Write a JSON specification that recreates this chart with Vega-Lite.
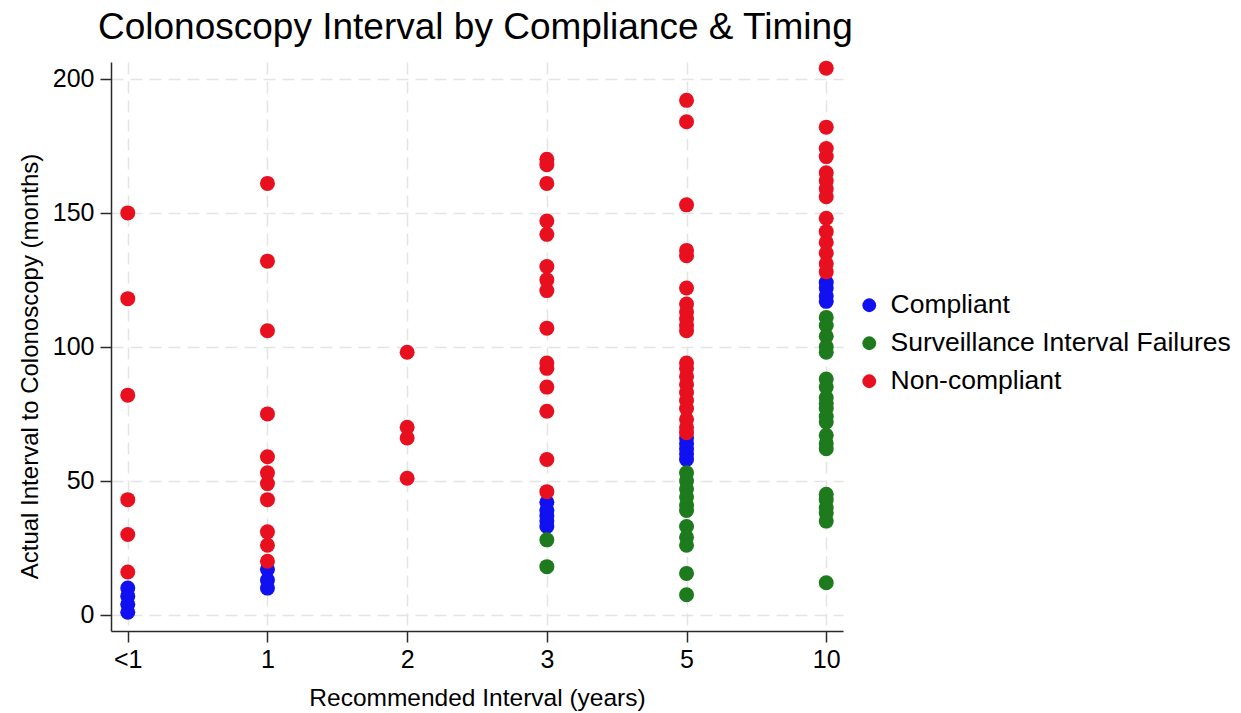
{
  "$schema": "https://vega.github.io/schema/vega-lite/v6.json",
  "autosize": {"type": "none"},
  "padding": {"left": 111, "top": 62, "right": 398, "bottom": 82},
  "width": 732,
  "height": 569,
  "background": "white",
  "title": {
    "text": "Colonoscopy Interval by Compliance & Timing",
    "anchor": "start",
    "frame": "group",
    "font": "Liberation Sans",
    "fontSize": 37,
    "fontWeight": "normal",
    "color": "black",
    "dx": -13,
    "offset": 14
  },
  "config": {
    "view": {"stroke": null},
    "font": "Liberation Sans"
  },
  "data": {
    "values": [
      {"x": "<1", "y": 10, "group": "Compliant"},
      {"x": "<1", "y": 7, "group": "Compliant"},
      {"x": "<1", "y": 4, "group": "Compliant"},
      {"x": "<1", "y": 1, "group": "Compliant"},
      {"x": "1", "y": 17, "group": "Compliant"},
      {"x": "1", "y": 13, "group": "Compliant"},
      {"x": "1", "y": 10, "group": "Compliant"},
      {"x": "3", "y": 42, "group": "Compliant"},
      {"x": "3", "y": 39, "group": "Compliant"},
      {"x": "3", "y": 37, "group": "Compliant"},
      {"x": "3", "y": 35, "group": "Compliant"},
      {"x": "3", "y": 33, "group": "Compliant"},
      {"x": "5", "y": 66, "group": "Compliant"},
      {"x": "5", "y": 64, "group": "Compliant"},
      {"x": "5", "y": 62, "group": "Compliant"},
      {"x": "5", "y": 60, "group": "Compliant"},
      {"x": "5", "y": 58, "group": "Compliant"},
      {"x": "10", "y": 124, "group": "Compliant"},
      {"x": "10", "y": 122, "group": "Compliant"},
      {"x": "10", "y": 119, "group": "Compliant"},
      {"x": "10", "y": 117, "group": "Compliant"},
      {"x": "3", "y": 28, "group": "Surveillance Interval Failures"},
      {"x": "3", "y": 18, "group": "Surveillance Interval Failures"},
      {"x": "5", "y": 53, "group": "Surveillance Interval Failures"},
      {"x": "5", "y": 50, "group": "Surveillance Interval Failures"},
      {"x": "5", "y": 47, "group": "Surveillance Interval Failures"},
      {"x": "5", "y": 44, "group": "Surveillance Interval Failures"},
      {"x": "5", "y": 41, "group": "Surveillance Interval Failures"},
      {"x": "5", "y": 39, "group": "Surveillance Interval Failures"},
      {"x": "5", "y": 33, "group": "Surveillance Interval Failures"},
      {"x": "5", "y": 29, "group": "Surveillance Interval Failures"},
      {"x": "5", "y": 26, "group": "Surveillance Interval Failures"},
      {"x": "5", "y": 15.5, "group": "Surveillance Interval Failures"},
      {"x": "5", "y": 7.5, "group": "Surveillance Interval Failures"},
      {"x": "10", "y": 111, "group": "Surveillance Interval Failures"},
      {"x": "10", "y": 108, "group": "Surveillance Interval Failures"},
      {"x": "10", "y": 104, "group": "Surveillance Interval Failures"},
      {"x": "10", "y": 100, "group": "Surveillance Interval Failures"},
      {"x": "10", "y": 98, "group": "Surveillance Interval Failures"},
      {"x": "10", "y": 88, "group": "Surveillance Interval Failures"},
      {"x": "10", "y": 85, "group": "Surveillance Interval Failures"},
      {"x": "10", "y": 81, "group": "Surveillance Interval Failures"},
      {"x": "10", "y": 79, "group": "Surveillance Interval Failures"},
      {"x": "10", "y": 77, "group": "Surveillance Interval Failures"},
      {"x": "10", "y": 74, "group": "Surveillance Interval Failures"},
      {"x": "10", "y": 72, "group": "Surveillance Interval Failures"},
      {"x": "10", "y": 67, "group": "Surveillance Interval Failures"},
      {"x": "10", "y": 64, "group": "Surveillance Interval Failures"},
      {"x": "10", "y": 62, "group": "Surveillance Interval Failures"},
      {"x": "10", "y": 45, "group": "Surveillance Interval Failures"},
      {"x": "10", "y": 43, "group": "Surveillance Interval Failures"},
      {"x": "10", "y": 40, "group": "Surveillance Interval Failures"},
      {"x": "10", "y": 38, "group": "Surveillance Interval Failures"},
      {"x": "10", "y": 35, "group": "Surveillance Interval Failures"},
      {"x": "10", "y": 12, "group": "Surveillance Interval Failures"},
      {"x": "<1", "y": 150, "group": "Non-compliant"},
      {"x": "<1", "y": 118, "group": "Non-compliant"},
      {"x": "<1", "y": 82, "group": "Non-compliant"},
      {"x": "<1", "y": 43, "group": "Non-compliant"},
      {"x": "<1", "y": 30, "group": "Non-compliant"},
      {"x": "<1", "y": 16, "group": "Non-compliant"},
      {"x": "1", "y": 161, "group": "Non-compliant"},
      {"x": "1", "y": 132, "group": "Non-compliant"},
      {"x": "1", "y": 106, "group": "Non-compliant"},
      {"x": "1", "y": 75, "group": "Non-compliant"},
      {"x": "1", "y": 59, "group": "Non-compliant"},
      {"x": "1", "y": 53, "group": "Non-compliant"},
      {"x": "1", "y": 49, "group": "Non-compliant"},
      {"x": "1", "y": 43, "group": "Non-compliant"},
      {"x": "1", "y": 31, "group": "Non-compliant"},
      {"x": "1", "y": 26, "group": "Non-compliant"},
      {"x": "1", "y": 20, "group": "Non-compliant"},
      {"x": "2", "y": 98, "group": "Non-compliant"},
      {"x": "2", "y": 70, "group": "Non-compliant"},
      {"x": "2", "y": 66, "group": "Non-compliant"},
      {"x": "2", "y": 51, "group": "Non-compliant"},
      {"x": "3", "y": 170, "group": "Non-compliant"},
      {"x": "3", "y": 168, "group": "Non-compliant"},
      {"x": "3", "y": 161, "group": "Non-compliant"},
      {"x": "3", "y": 147, "group": "Non-compliant"},
      {"x": "3", "y": 142, "group": "Non-compliant"},
      {"x": "3", "y": 130, "group": "Non-compliant"},
      {"x": "3", "y": 125, "group": "Non-compliant"},
      {"x": "3", "y": 121, "group": "Non-compliant"},
      {"x": "3", "y": 107, "group": "Non-compliant"},
      {"x": "3", "y": 94, "group": "Non-compliant"},
      {"x": "3", "y": 92, "group": "Non-compliant"},
      {"x": "3", "y": 85, "group": "Non-compliant"},
      {"x": "3", "y": 76, "group": "Non-compliant"},
      {"x": "3", "y": 58, "group": "Non-compliant"},
      {"x": "3", "y": 46, "group": "Non-compliant"},
      {"x": "5", "y": 192, "group": "Non-compliant"},
      {"x": "5", "y": 184, "group": "Non-compliant"},
      {"x": "5", "y": 153, "group": "Non-compliant"},
      {"x": "5", "y": 136, "group": "Non-compliant"},
      {"x": "5", "y": 134, "group": "Non-compliant"},
      {"x": "5", "y": 122, "group": "Non-compliant"},
      {"x": "5", "y": 116, "group": "Non-compliant"},
      {"x": "5", "y": 113, "group": "Non-compliant"},
      {"x": "5", "y": 110.5, "group": "Non-compliant"},
      {"x": "5", "y": 108, "group": "Non-compliant"},
      {"x": "5", "y": 106, "group": "Non-compliant"},
      {"x": "5", "y": 94, "group": "Non-compliant"},
      {"x": "5", "y": 92, "group": "Non-compliant"},
      {"x": "5", "y": 89, "group": "Non-compliant"},
      {"x": "5", "y": 86, "group": "Non-compliant"},
      {"x": "5", "y": 83, "group": "Non-compliant"},
      {"x": "5", "y": 80, "group": "Non-compliant"},
      {"x": "5", "y": 77, "group": "Non-compliant"},
      {"x": "5", "y": 73, "group": "Non-compliant"},
      {"x": "5", "y": 70, "group": "Non-compliant"},
      {"x": "5", "y": 68, "group": "Non-compliant"},
      {"x": "10", "y": 204, "group": "Non-compliant"},
      {"x": "10", "y": 182, "group": "Non-compliant"},
      {"x": "10", "y": 174, "group": "Non-compliant"},
      {"x": "10", "y": 171, "group": "Non-compliant"},
      {"x": "10", "y": 165, "group": "Non-compliant"},
      {"x": "10", "y": 162, "group": "Non-compliant"},
      {"x": "10", "y": 159, "group": "Non-compliant"},
      {"x": "10", "y": 156, "group": "Non-compliant"},
      {"x": "10", "y": 148, "group": "Non-compliant"},
      {"x": "10", "y": 143, "group": "Non-compliant"},
      {"x": "10", "y": 139, "group": "Non-compliant"},
      {"x": "10", "y": 135, "group": "Non-compliant"},
      {"x": "10", "y": 131, "group": "Non-compliant"},
      {"x": "10", "y": 128, "group": "Non-compliant"}
    ]
  },
  "mark": {"type": "circle", "size": 225, "opacity": 1},
  "encoding": {
    "x": {
      "field": "x",
      "type": "ordinal",
      "scale": {"type": "point", "padding": 0.12, "domain": ["<1", "1", "2", "3", "5", "10"]},
      "axis": {
        "title": "Recommended Interval (years)",
        "labelAngle": 0,
        "labelFontSize": 25,
        "labelColor": "black",
        "labelPadding": 5,
        "titleFontSize": 24.5,
        "titleFontWeight": "normal",
        "titleColor": "black",
        "titleBaseline": "alphabetic",
        "titleY": 74,
        "domainColor": "#2a2a2a",
        "domainWidth": 1.5,
        "tickColor": "#2a2a2a",
        "tickWidth": 1.5,
        "tickSize": 11,
        "grid": true,
        "gridColor": "#e4e4e4",
        "gridWidth": 1.5,
        "gridDash": [12, 7]
      }
    },
    "y": {
      "field": "y",
      "type": "quantitative",
      "scale": {"domain": [-6, 206.3], "nice": false, "zero": false},
      "axis": {
        "title": "Actual Interval to Colonoscopy (months)",
        "values": [0, 50, 100, 150, 200],
        "labelFontSize": 25,
        "labelColor": "black",
        "labelPadding": 6,
        "titleFontSize": 24,
        "titleFontWeight": "normal",
        "titleColor": "black",
        "titleAngle": -90,
        "titleBaseline": "alphabetic",
        "titleX": -74,
        "titleY": 304,
        "domainColor": "#2a2a2a",
        "domainWidth": 1.5,
        "tickColor": "#2a2a2a",
        "tickWidth": 1.5,
        "tickSize": 11,
        "grid": true,
        "gridColor": "#e4e4e4",
        "gridWidth": 1.5,
        "gridDash": [12, 7]
      }
    },
    "color": {
      "field": "group",
      "type": "nominal",
      "scale": {
        "domain": ["Compliant", "Surveillance Interval Failures", "Non-compliant"],
        "range": ["#1010f0", "#1d7a1d", "#e8101f"]
      },
      "legend": {
        "title": null,
        "orient": "none",
        "legendX": 745,
        "legendY": 230,
        "padding": 0,
        "symbolType": "circle",
        "symbolSize": 190,
        "symbolOpacity": 1,
        "labelFontSize": 26.5,
        "labelColor": "black",
        "labelOffset": 8,
        "rowPadding": 11,
        "labelLimit": 500
      }
    }
  }
}
